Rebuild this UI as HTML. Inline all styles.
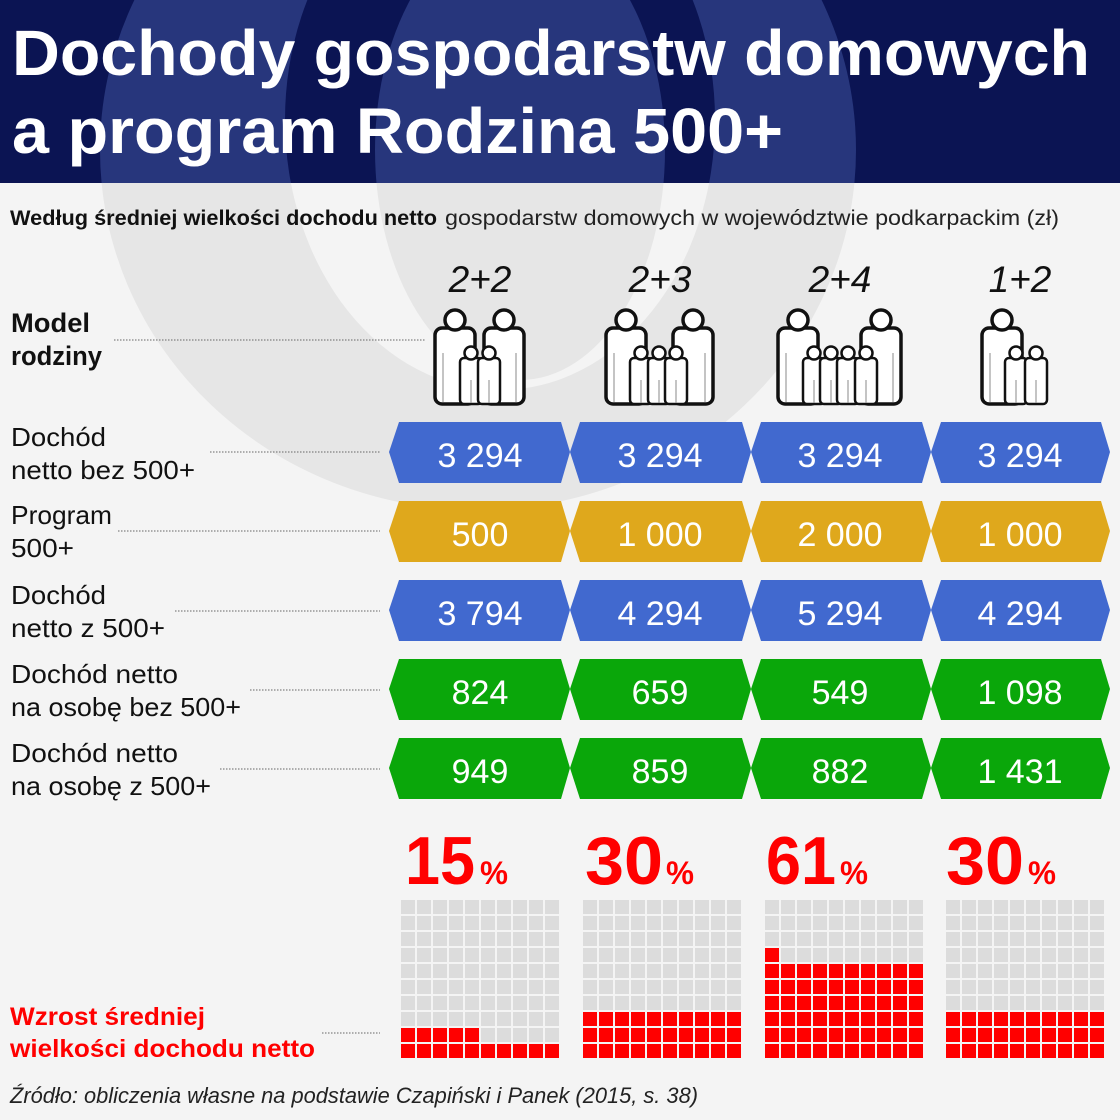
<!DOCTYPE html>
<html><head><meta charset="utf-8"><style>
html,body{margin:0;padding:0;background:#f4f4f4;}
svg{display:block;}
text{font-family:"Liberation Sans",sans-serif;}
</style></head><body>
<svg width="1120" height="1120" viewBox="0 0 1120 1120" xmlns="http://www.w3.org/2000/svg">
<defs>
<clipPath id="hd"><rect x="0" y="0" width="1120" height="183"/></clipPath>
<clipPath id="bd"><rect x="0" y="183" width="1120" height="937"/></clipPath>
<g id="logo">
<path fill-rule="evenodd" d="M100,150 a378,360 0 1,0 756,0 a378,360 0 1,0 -756,0 Z M285,120 a215,270 0 1,0 430,0 a215,270 0 1,0 -430,0 Z"/>
<ellipse cx="520" cy="150" rx="145" ry="230"/>
</g>
<g id="adult"><rect x="0" y="20" width="40" height="76" rx="7" fill="#fff" stroke="#111" stroke-width="3.5"/><circle cx="20" cy="12" r="10" fill="#fff" stroke="#111" stroke-width="3.5"/><line x1="8" y1="45" x2="8" y2="94" stroke="#888" stroke-width="1"/><line x1="32" y1="45" x2="32" y2="94" stroke="#888" stroke-width="1"/></g>
<g id="kid"><rect x="0" y="12" width="22" height="46" rx="4" fill="#fff" stroke="#111" stroke-width="2.5"/><circle cx="11" cy="7" r="6.5" fill="#fff" stroke="#111" stroke-width="2.5"/><line x1="11" y1="34" x2="11" y2="57" stroke="#888" stroke-width="1"/></g>
</defs>
<rect x="0" y="0" width="1120" height="183" fill="#0b1453"/>
<rect x="0" y="183" width="1120" height="937" fill="#f4f4f4"/>
<use href="#logo" fill="#27367c" clip-path="url(#hd)"/>
<use href="#logo" fill="#e6e6e6" clip-path="url(#bd)"/>

<text x="12" y="75" font-size="64" font-weight="bold" fill="#fff" textLength="1078" lengthAdjust="spacingAndGlyphs">Dochody gospodarstw domowych</text>
<text x="12" y="153" font-size="64" font-weight="bold" fill="#fff" textLength="771" lengthAdjust="spacingAndGlyphs">a program Rodzina 500+</text>

<text x="10" y="225" font-size="21" font-weight="bold" fill="#111" textLength="427" lengthAdjust="spacingAndGlyphs">Według średniej wielkości dochodu netto</text>
<text x="445" y="225" font-size="21" fill="#222" textLength="614" lengthAdjust="spacingAndGlyphs">gospodarstw domowych w województwie podkarpackim (zł)</text>

<g font-size="37" font-style="italic" fill="#111" text-anchor="middle">
<text x="480" y="292">2+2</text><text x="660" y="292">2+3</text><text x="840" y="292">2+4</text><text x="1020" y="292">1+2</text>
</g>

<g font-size="27" font-weight="bold" fill="#111">
<text x="11" y="332" textLength="79" lengthAdjust="spacingAndGlyphs">Model</text>
<text x="11" y="365" textLength="91" lengthAdjust="spacingAndGlyphs">rodziny</text>
</g>
<g stroke="#666" stroke-width="1" stroke-dasharray="1.5,1.5">
<line x1="114" y1="340" x2="425" y2="340"/>
<line x1="210" y1="452" x2="380" y2="452"/>
<line x1="118" y1="531" x2="380" y2="531"/>
<line x1="175" y1="611" x2="380" y2="611"/>
<line x1="250" y1="690" x2="380" y2="690"/>
<line x1="220" y1="769" x2="380" y2="769"/>
<line x1="322" y1="1033" x2="380" y2="1033"/>
</g>
<g font-size="26" fill="#111">
<text x="11" y="446" textLength="95" lengthAdjust="spacingAndGlyphs">Dochód</text>
<text x="11" y="479" textLength="184" lengthAdjust="spacingAndGlyphs">netto bez 500+</text>
<text x="11" y="524" textLength="101" lengthAdjust="spacingAndGlyphs">Program</text>
<text x="11" y="557" textLength="63" lengthAdjust="spacingAndGlyphs">500+</text>
<text x="11" y="604" textLength="95" lengthAdjust="spacingAndGlyphs">Dochód</text>
<text x="11" y="637" textLength="154" lengthAdjust="spacingAndGlyphs">netto z 500+</text>
<text x="11" y="683" textLength="167" lengthAdjust="spacingAndGlyphs">Dochód netto</text>
<text x="11" y="716" textLength="230" lengthAdjust="spacingAndGlyphs">na osobę bez 500+</text>
<text x="11" y="762" textLength="167" lengthAdjust="spacingAndGlyphs">Dochód netto</text>
<text x="11" y="795" textLength="200" lengthAdjust="spacingAndGlyphs">na osobę z 500+</text>
</g>

<!-- icons -->
<use href="#adult" x="435" y="308"/><use href="#adult" x="484" y="308"/>
<use href="#kid" x="460" y="346"/><use href="#kid" x="478" y="346"/>

<use href="#adult" x="606" y="308"/><use href="#adult" x="673" y="308"/>
<use href="#kid" x="630" y="346"/><use href="#kid" x="648" y="346"/><use href="#kid" x="665" y="346"/>

<use href="#adult" x="778" y="308"/><use href="#adult" x="861" y="308"/>
<use href="#kid" x="803" y="346"/><use href="#kid" x="820" y="346"/><use href="#kid" x="837" y="346"/><use href="#kid" x="855" y="346"/>

<use href="#adult" x="982" y="308"/>
<use href="#kid" x="1005" y="346"/><use href="#kid" x="1025" y="346"/>

<!-- chevrons -->
<g id="rows"></g>
<g font-size="34" fill="#fff" text-anchor="middle">
<!-- row 1 -->
<g fill="#4169cf">
<path d="M389,452 L399,422 L561,422 L570,452 L561,483 L399,483Z"/>
<path d="M570,452 L580,422 L742,422 L751,452 L742,483 L580,483Z"/>
<path d="M751,452 L761,422 L922,422 L931,452 L922,483 L761,483Z"/>
<path d="M931,452 L941,422 L1101,422 L1110,452 L1101,483 L941,483Z"/>
</g>
<text x="480" y="467">3 294</text><text x="660" y="467">3 294</text><text x="840" y="467">3 294</text><text x="1020" y="467">3 294</text>
<!-- row 2 -->
<g fill="#dfa81c" transform="translate(0,79)">
<path d="M389,452 L399,422 L561,422 L570,452 L561,483 L399,483Z"/>
<path d="M570,452 L580,422 L742,422 L751,452 L742,483 L580,483Z"/>
<path d="M751,452 L761,422 L922,422 L931,452 L922,483 L761,483Z"/>
<path d="M931,452 L941,422 L1101,422 L1110,452 L1101,483 L941,483Z"/>
</g>
<text x="480" y="546">500</text><text x="660" y="546">1 000</text><text x="840" y="546">2 000</text><text x="1020" y="546">1 000</text>
<!-- row 3 -->
<g fill="#4169cf" transform="translate(0,158)">
<path d="M389,452 L399,422 L561,422 L570,452 L561,483 L399,483Z"/>
<path d="M570,452 L580,422 L742,422 L751,452 L742,483 L580,483Z"/>
<path d="M751,452 L761,422 L922,422 L931,452 L922,483 L761,483Z"/>
<path d="M931,452 L941,422 L1101,422 L1110,452 L1101,483 L941,483Z"/>
</g>
<text x="480" y="625">3 794</text><text x="660" y="625">4 294</text><text x="840" y="625">5 294</text><text x="1020" y="625">4 294</text>
<!-- row 4 -->
<g fill="#0aa70a" transform="translate(0,237)">
<path d="M389,452 L399,422 L561,422 L570,452 L561,483 L399,483Z"/>
<path d="M570,452 L580,422 L742,422 L751,452 L742,483 L580,483Z"/>
<path d="M751,452 L761,422 L922,422 L931,452 L922,483 L761,483Z"/>
<path d="M931,452 L941,422 L1101,422 L1110,452 L1101,483 L941,483Z"/>
</g>
<text x="480" y="704">824</text><text x="660" y="704">659</text><text x="840" y="704">549</text><text x="1020" y="704">1 098</text>
<!-- row 5 -->
<g fill="#0aa70a" transform="translate(0,316)">
<path d="M389,452 L399,422 L561,422 L570,452 L561,483 L399,483Z"/>
<path d="M570,452 L580,422 L742,422 L751,452 L742,483 L580,483Z"/>
<path d="M751,452 L761,422 L922,422 L931,452 L922,483 L761,483Z"/>
<path d="M931,452 L941,422 L1101,422 L1110,452 L1101,483 L941,483Z"/>
</g>
<text x="480" y="783">949</text><text x="660" y="783">859</text><text x="840" y="783">882</text><text x="1020" y="783">1 431</text>
</g>

<!-- percentages -->
<g fill="#ff0000" font-weight="bold">
<text x="405" y="884" font-size="68" textLength="70" lengthAdjust="spacingAndGlyphs">15</text><text x="480" y="884" font-size="32" textLength="28" lengthAdjust="spacingAndGlyphs">%</text>
<text x="585" y="884" font-size="68" textLength="78" lengthAdjust="spacingAndGlyphs">30</text><text x="666" y="884" font-size="32" textLength="28" lengthAdjust="spacingAndGlyphs">%</text>
<text x="766" y="884" font-size="68" textLength="70" lengthAdjust="spacingAndGlyphs">61</text><text x="840" y="884" font-size="32" textLength="28" lengthAdjust="spacingAndGlyphs">%</text>
<text x="946" y="884" font-size="68" textLength="78" lengthAdjust="spacingAndGlyphs">30</text><text x="1028" y="884" font-size="32" textLength="28" lengthAdjust="spacingAndGlyphs">%</text>
</g>

<g id="waffles"></g>

<g fill="#ff0000" font-size="25" font-weight="bold">
<text x="10" y="1025" textLength="195" lengthAdjust="spacingAndGlyphs">Wzrost średniej</text>
<text x="10" y="1057" textLength="305" lengthAdjust="spacingAndGlyphs">wielkości dochodu netto</text>
</g>
<text x="10" y="1103" font-size="22" font-style="italic" fill="#222" textLength="688" lengthAdjust="spacingAndGlyphs">Źródło: obliczenia własne na podstawie Czapiński i Panek (2015, s. 38)</text>
</svg>
<script>
(function(){
var ns="http://www.w3.org/2000/svg",g=document.getElementById("waffles");
var xs=[401,583,765,946],vals=[15,30,61,30];
for(var k=0;k<4;k++){for(var r=0;r<10;r++){for(var c=0;c<10;c++){
var idx=(9-r)*10+c; var red=idx<vals[k];
var e=document.createElementNS(ns,"rect");
e.setAttribute("x",xs[k]+c*16);e.setAttribute("y",900+r*16);
e.setAttribute("width",14);e.setAttribute("height",14);
e.setAttribute("fill",red?"#ff0000":"#dcdcdc");g.appendChild(e);}}}
})();
</script>
</body></html>
